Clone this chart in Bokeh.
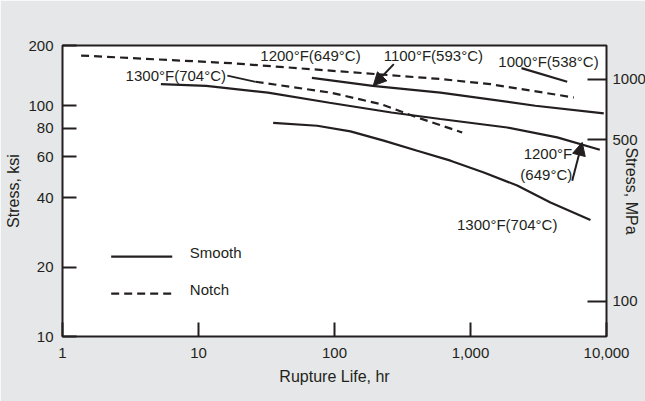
from bokeh.plotting import figure
from bokeh.models import (LogAxis, FixedTicker, Range1d, Arrow, NormalHead, LogScale)
from bokeh.core.properties import value
from bokeh.embed import file_html
from bokeh.resources import INLINE

# ---------------- data (rupture life in hours, stress in ksi) ----------------
smooth_1000_hr = [2371, 5140]
smooth_1000_ksi = [145.6, 127]

smooth_1100_hr = [68.2, 191, 601, 2995, 9550]
smooth_1100_ksi = [132, 122, 114, 100, 92.6]

smooth_1200_hr = [5.29, 11.4, 32.4, 91.9, 262, 601, 1862, 4340, 8930]
smooth_1200_ksi = [124, 122, 114, 103, 93.5, 87.6, 80.5, 72.9, 64.5]

smooth_1300_hr = [35.4, 74.6, 131, 230, 406, 713, 1253, 2205, 3873, 7621]
smooth_1300_ksi = [84.2, 81.9, 77.4, 70.6, 63.8, 57.8, 51.4, 45.1, 38.1, 32.0]

notch_1200_hr = [1.37, 17.2, 206, 601, 1403, 5750]
notch_1200_ksi = [165, 153, 137, 130.5, 124, 108.6]

notch_1300_hr = [26.3, 93.5, 218, 405, 869]
notch_1300_ksi = [127, 114, 101.7, 89, 76.6]

# leader line from the top-left label to the 1300F notch curve
leader_hr = [16.3, 26.3]
leader_ksi = [134.9, 127]

# axis ticks
x_ticks = [1, 10, 100, 1000, 10000]
x_tick_labels = ["1", "10", "100", "1,000", "10,000"]
ksi_tick_pos = [10, 20, 40, 60, 80, 100, 182.4]
ksi_tick_labels = ["10", "20", "40", "60", "80", "100", "200"]
mpa_tick_pos = [98, 491, 896]
mpa_tick_labels = ["100", "500", "1000"]

# annotations
ann_text = ["1200°F(649°C)", "1100°F(593°C)", "1000°F(538°C)", "1300°F(704°C)", "1300°F(704°C)"]
ann_hr = [66.6, 533, 3746, 6.81, 1862]
ann_ksi = [164.6, 164.6, 155, 135.5, 30.7]

ann_r_text = ["1200°F", "(649°C)"]
ann_r_hr = [5596, 5596]
ann_r_ksi = [62.0, 50.5]

arrow_1100 = dict(x_start=273, y_start=151.5, x_end=192.6, y_end=122.1)
arrow_1200 = dict(x_start=5596, y_start=47.3, x_end=6627, y_end=69.4)

legend_hr = [2.28, 6.41]
legend_smooth_ksi = [22.2, 22.2]
legend_notch_ksi = [15.35, 15.35]
legend_text = ["Smooth", "Notch"]
legend_text_hr = [8.63, 8.63]
legend_text_ksi = [23.1, 16.03]

KSI_TO_MPA = 6.895
INK = "#231f20"
FONT = "Liberation Sans"
BG = "#e6e7e8"

p = figure(width=645, height=401, x_axis_type="log", y_axis_type="log",
           x_range=Range1d(1, 10000), y_range=Range1d(10, 182.4),
           output_backend="svg", toolbar_location=None,
           min_border_left=62, min_border_right=39, min_border_top=45, min_border_bottom=65)
p.border_fill_color = BG
p.background_fill_color = "white"
p.outline_line_color = INK
p.outline_line_width = 2
p.xgrid.visible = False
p.ygrid.visible = False

p.extra_y_ranges = {"mpa": Range1d(10 * KSI_TO_MPA, 182.4 * KSI_TO_MPA)}
p.extra_y_scales = {"mpa": LogScale()}
raxis = LogAxis(y_range_name="mpa")
p.add_layout(raxis, "right")

xa = p.xaxis[0]
ya = p.yaxis[0]
xa.ticker = FixedTicker(ticks=x_ticks)
xa.major_label_overrides = {t: l for t, l in zip(x_ticks, x_tick_labels)}
ya.ticker = FixedTicker(ticks=ksi_tick_pos)
ya.major_label_overrides = {t: l for t, l in zip(ksi_tick_pos, ksi_tick_labels)}
raxis.ticker = FixedTicker(ticks=mpa_tick_pos)
raxis.major_label_overrides = {t: l for t, l in zip(mpa_tick_pos, mpa_tick_labels)}

xa.axis_label = "Rupture Life, hr"
ya.axis_label = "Stress, ksi"
raxis.axis_label = "Stress, MPa"

for ax, tin, so in ((xa, 14, 11), (ya, 14, 9), (raxis, 19, 6)):
    ax.axis_line_color = None
    ax.major_tick_in = tin
    ax.major_tick_out = 0
    ax.major_tick_line_width = 2
    ax.major_tick_line_color = INK
    ax.minor_tick_line_color = None
    ax.major_label_standoff = so
    ax.major_label_text_font = FONT
    ax.major_label_text_font_size = "15px"
    ax.major_label_text_color = INK
    ax.axis_label_text_font = FONT
    ax.axis_label_text_font_size = "16px"
    ax.axis_label_text_font_style = "normal"
    ax.axis_label_text_color = INK
xa.axis_label_standoff = 7
ya.axis_label_standoff = 3
raxis.axis_label_standoff = -26

LW = 2.2
DASH = "8 5"
p.line(smooth_1000_hr, smooth_1000_ksi, line_color=INK, line_width=LW)
p.line(smooth_1100_hr, smooth_1100_ksi, line_color=INK, line_width=LW)
p.line(smooth_1200_hr, smooth_1200_ksi, line_color=INK, line_width=LW)
p.line(smooth_1300_hr, smooth_1300_ksi, line_color=INK, line_width=LW)
p.line(notch_1200_hr, notch_1200_ksi, line_color=INK, line_width=LW, line_dash=DASH)
p.line(notch_1300_hr, notch_1300_ksi, line_color=INK, line_width=LW, line_dash=DASH)
p.line(leader_hr, leader_ksi, line_color=INK, line_width=1.8)

# legend
p.line(legend_hr, legend_smooth_ksi, line_color=INK, line_width=LW)
p.line(legend_hr, legend_notch_ksi, line_color=INK, line_width=LW, line_dash=DASH)
p.text(x=legend_text_hr, y=legend_text_ksi, text=legend_text, text_align="left",
       text_baseline="middle", text_font=value(FONT), text_font_size=value("15px"),
       text_color=INK)

# curve labels
p.text(x=ann_hr, y=ann_ksi, text=ann_text, text_align="center", text_baseline="middle",
       text_font=value(FONT), text_font_size=value("15px"), text_color=INK)
p.text(x=ann_r_hr, y=ann_r_ksi, text=ann_r_text, text_align="right", text_baseline="middle",
       text_font=value(FONT), text_font_size=value("15px"), text_color=INK)

for a in (arrow_1100, arrow_1200):
    p.add_layout(Arrow(end=NormalHead(size=13, fill_color=INK, line_color=INK, line_width=1),
                       line_color=INK, line_width=2, **a))

open("out.html", "w").write(file_html(p, INLINE))
